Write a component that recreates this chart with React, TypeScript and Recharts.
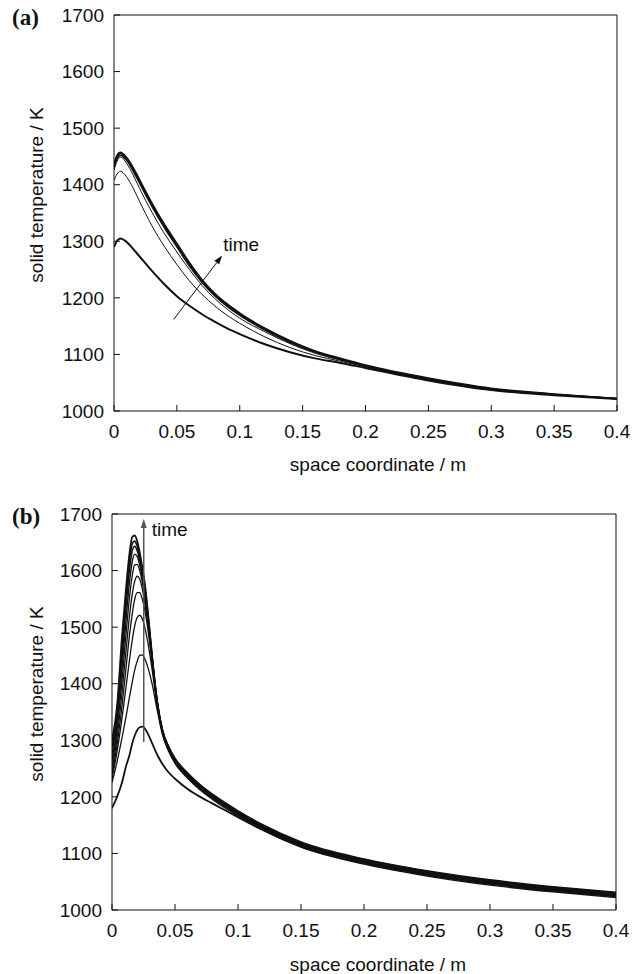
import React from "react";
import { LineChart, Line, XAxis, YAxis, ReferenceLine } from "recharts";

// panel (a): x positions and curves (K), earliest first
const X_A = [0, 0.0025, 0.005, 0.01, 0.015, 0.02, 0.03, 0.04, 0.05, 0.06, 0.07, 0.08, 0.09, 0.1, 0.12, 0.14, 0.16, 0.18, 0.2, 0.25, 0.3, 0.35, 0.4];
const A1 = [1290, 1301, 1305, 1299, 1287, 1274, 1248, 1224, 1203, 1186, 1171, 1158, 1146, 1136, 1118, 1104, 1093, 1085, 1076, 1054, 1037, 1028, 1021];
const A2 = [1408, 1419, 1424, 1414, 1395, 1372, 1328, 1291, 1259, 1230, 1206, 1186, 1169, 1155, 1131, 1112, 1098, 1088, 1078, 1055, 1038, 1029, 1022];
const A3 = [1426, 1442, 1449, 1438, 1418, 1395, 1352, 1314, 1281, 1250, 1222, 1199, 1180, 1164, 1140, 1119, 1102, 1090, 1079, 1056, 1038, 1029, 1022];
const A4 = [1430, 1446, 1452, 1443, 1425, 1404, 1362, 1324, 1290, 1256, 1227, 1204, 1185, 1169, 1143, 1121, 1104, 1091, 1080, 1057, 1039, 1029, 1022];
const A5 = [1434, 1449, 1455, 1446, 1428, 1407, 1365, 1327, 1293, 1259, 1230, 1206, 1187, 1171, 1145, 1123, 1105, 1092, 1080, 1057, 1039, 1029, 1022];
const A6 = [1437, 1452, 1457, 1448, 1431, 1410, 1368, 1330, 1296, 1262, 1232, 1208, 1189, 1173, 1146, 1124, 1106, 1093, 1081, 1058, 1040, 1030, 1022];

// panel (b)
const X_B = [0, 0.004, 0.008, 0.011, 0.014, 0.016, 0.018, 0.02, 0.022, 0.024, 0.026, 0.029, 0.032, 0.036, 0.04, 0.045, 0.05, 0.06, 0.07, 0.08, 0.1, 0.12, 0.15, 0.2, 0.25, 0.3, 0.35, 0.4];
const B1 = [1180, 1200, 1226, 1253, 1275, 1294, 1308, 1318, 1323, 1324, 1321, 1309, 1294, 1274, 1258, 1243, 1232, 1214, 1200, 1188, 1164, 1141, 1112, 1083, 1062, 1046, 1034, 1024];
const B2 = [1225, 1262, 1305, 1340, 1378, 1402, 1424, 1440, 1450, 1451, 1444, 1425, 1398, 1352, 1310, 1280, 1259, 1233, 1212, 1195, 1166, 1141, 1111, 1081, 1060, 1044, 1032, 1022];
const B3 = [1232, 1280, 1340, 1392, 1444, 1476, 1502, 1517, 1521, 1515, 1500, 1466, 1422, 1359, 1313, 1282, 1261, 1235, 1214, 1197, 1168, 1143, 1113, 1083, 1062, 1046, 1034, 1024];
const B4 = [1238, 1292, 1362, 1425, 1488, 1522, 1549, 1561, 1561, 1550, 1530, 1488, 1434, 1362, 1315, 1284, 1262, 1236, 1215, 1198, 1169, 1144, 1114, 1084, 1063, 1047, 1035, 1025];
const B5 = [1245, 1305, 1385, 1455, 1522, 1557, 1581, 1590, 1585, 1568, 1543, 1495, 1438, 1364, 1316, 1285, 1263, 1237, 1216, 1199, 1170, 1145, 1115, 1085, 1064, 1048, 1036, 1026];
const B6 = [1255, 1318, 1408, 1484, 1555, 1590, 1610, 1611, 1600, 1580, 1552, 1501, 1441, 1365, 1317, 1286, 1264, 1238, 1217, 1200, 1171, 1146, 1116, 1086, 1065, 1049, 1037, 1027];
const B7 = [1265, 1330, 1428, 1510, 1582, 1615, 1629, 1625, 1610, 1588, 1560, 1506, 1442, 1365, 1317, 1287, 1265, 1239, 1218, 1201, 1172, 1147, 1117, 1087, 1066, 1050, 1038, 1028];
const B8 = [1275, 1342, 1447, 1532, 1604, 1634, 1643, 1635, 1618, 1594, 1566, 1509, 1443, 1366, 1318, 1287, 1266, 1240, 1219, 1202, 1173, 1148, 1118, 1088, 1067, 1051, 1039, 1029];
const B9 = [1288, 1352, 1467, 1550, 1619, 1647, 1652, 1643, 1624, 1600, 1572, 1512, 1444, 1366, 1318, 1288, 1267, 1241, 1220, 1203, 1174, 1149, 1119, 1089, 1068, 1052, 1040, 1030];
const B10 = [1300, 1360, 1485, 1565, 1632, 1659, 1662, 1652, 1632, 1606, 1578, 1515, 1445, 1366, 1318, 1288, 1268, 1242, 1221, 1204, 1175, 1150, 1120, 1090, 1069, 1053, 1041, 1031];

const X_TICKS = [0, 0.05, 0.1, 0.15, 0.2, 0.25, 0.3, 0.35, 0.4];
const Y_TICKS = [1000, 1100, 1200, 1300, 1400, 1500, 1600, 1700];
const X_LABEL = "space coordinate / m";
const Y_LABEL = "solid temperature / K";
const TIME_LABEL = "time";

// arrow segments in data units
const ARROW_A = [{ x: 0.0475, y: 1162 }, { x: 0.086, y: 1275 }];
const ARROW_B = [{ x: 0.0252, y: 1297 }, { x: 0.0252, y: 1691 }];

const FONT = "'Liberation Sans', Arial, Helvetica, sans-serif";
const INK = "#111";

function toRows(xs: number[], series: number[][]) {
  return xs.map((x, i) => {
    const row: Record<string, number> = { x };
    series.forEach((s, k) => (row["s" + k] = s[i]));
    return row;
  });
}

const rowsA = toRows(X_A, [A1, A2, A3, A4, A5, A6]);
const rowsB = toRows(X_B, [B1, B2, B3, B4, B5, B6, B7, B8, B9, B10]);

function makeArrow(color: string, width: number, dx: number, dy: number) {
  return (p: any) => {
    const { x1, y1, x2, y2 } = p;
    const a = Math.atan2(y2 - y1, x2 - x1);
    const len = 9;
    const half = 3;
    const bx = x2 - len * Math.cos(a);
    const by = y2 - len * Math.sin(a);
    const pts = `${x2},${y2} ${bx - half * Math.sin(a)},${by + half * Math.cos(a)} ${bx + half * Math.sin(a)},${by - half * Math.cos(a)}`;
    return (
      <g>
        <line x1={x1} y1={y1} x2={bx} y2={by} stroke={color} strokeWidth={width} />
        <polygon points={pts} fill={color} />
        <text x={x2 + dx} y={y2 + dy} fontSize={19} fontFamily={FONT} fill={INK}>
          {TIME_LABEL}
        </text>
      </g>
    );
  };
}

interface PanelProps {
  rows: Record<string, number>[];
  widths: number[];
  left: number;
  right: number;
  axisHeight: number;
  arrow: { x: number; y: number }[];
  arrowShape: (p: any) => React.ReactElement;
}

function Panel({ rows, widths, left, right, axisHeight, arrow, arrowShape }: PanelProps) {
  const tickStyle = { fill: INK, fontSize: 19, fontFamily: FONT };
  return (
    <LineChart
      width={644}
      height={15 + 396 + axisHeight}
      data={rows}
      margin={{ top: 14, right: right - 1, bottom: 0, left: 0 }}
    >
      <XAxis
        xAxisId="b"
        dataKey="x"
        type="number"
        domain={[0, 0.4]}
        ticks={X_TICKS}
        interval={0}
        tickSize={-6}
        tickMargin={20}
        height={axisHeight}
        stroke={INK}
        tick={tickStyle}
        allowDataOverflow
      />
      <XAxis
        xAxisId="t"
        orientation="top"
        dataKey="x"
        type="number"
        domain={[0, 0.4]}
        ticks={X_TICKS}
        interval={0}
        tickSize={-6}
        height={1}
        stroke={INK}
        tick={false}
      />
      <YAxis
        yAxisId="l"
        type="number"
        domain={[1000, 1700]}
        ticks={Y_TICKS}
        interval={0}
        tickSize={-6}
        tickMargin={16}
        width={left}
        stroke={INK}
        tick={tickStyle}
        allowDataOverflow
      />
      <YAxis
        yAxisId="r"
        orientation="right"
        type="number"
        domain={[1000, 1700]}
        ticks={Y_TICKS}
        interval={0}
        tickSize={-6}
        width={1}
        stroke={INK}
        tick={false}
      />
      {widths.map((w, k) => (
        <Line
          key={k}
          xAxisId="b"
          yAxisId="l"
          dataKey={"s" + k}
          type="monotone"
          stroke={INK}
          strokeWidth={w}
          dot={false}
          activeDot={false}
          isAnimationActive={false}
        />
      ))}
      <ReferenceLine xAxisId="b" yAxisId="l" segment={arrow} shape={arrowShape} />
    </LineChart>
  );
}

const abs = (s: React.CSSProperties): React.CSSProperties => ({ position: "absolute", ...s });

export default function App() {
  const title: React.CSSProperties = { fontFamily: FONT, fontSize: 19, color: INK, whiteSpace: "nowrap", lineHeight: 1 };
  const tag: React.CSSProperties = { fontFamily: "'Liberation Serif', 'Times New Roman', serif", fontWeight: "bold", fontSize: 23, color: INK, lineHeight: 1 };
  return (
    <div style={abs({ left: 0, top: 0, width: 644, height: 974, overflow: "hidden", background: "#fff" })}>
      <div style={abs({ left: 0, top: 0 })}>
        <Panel
          rows={rowsA}
          widths={[2, 1, 1, 1.5, 1.5, 1.8]}
          left={114}
          right={27}
          axisHeight={69}
          arrow={ARROW_A}
          arrowShape={makeArrow(INK, 1, 1, -4)}
        />
      </div>
      <div style={abs({ left: 0, top: 499 })}>
        <Panel
          rows={rowsB}
          widths={[1.8, 1.3, 1.3, 1.3, 1.3, 1.3, 1.4, 1.5, 1.6, 1.8]}
          left={112}
          right={28}
          axisHeight={64}
          arrow={ARROW_B}
          arrowShape={makeArrow("#555", 1.5, 8, 17)}
        />
      </div>
      <div style={abs({ left: 12, top: 6, ...tag })}>(a)</div>
      <div style={abs({ left: 12, top: 505, ...tag })}>(b)</div>
      <div style={abs({ left: 36, top: 195, transform: "translate(-50%, -50%) rotate(-90deg)", ...title })}>{Y_LABEL}</div>
      <div style={abs({ left: 36, top: 694, transform: "translate(-50%, -50%) rotate(-90deg)", ...title })}>{Y_LABEL}</div>
      <div style={abs({ left: 378, top: 464, transform: "translate(-50%, -50%)", ...title })}>{X_LABEL}</div>
      <div style={abs({ left: 378, top: 964, transform: "translate(-50%, -50%)", ...title })}>{X_LABEL}</div>
    </div>
  );
}
